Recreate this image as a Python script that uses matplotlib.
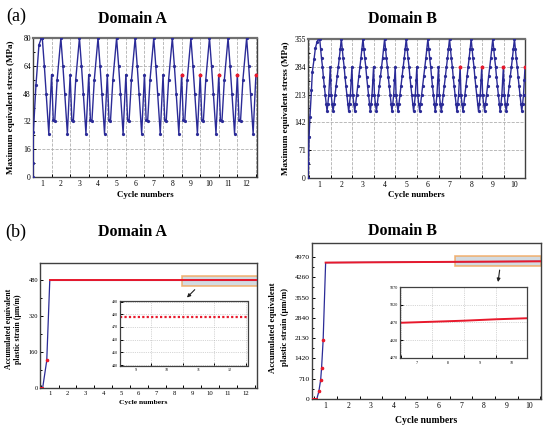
import numpy as np
import matplotlib
matplotlib.use('Agg')
import matplotlib.pyplot as plt
from matplotlib.patches import Rectangle, FancyArrowPatch

plt.rcParams['font.family'] = ['Liberation Serif', 'DejaVu Serif']

AZUL = '#2b2b97'
ROJO = '#e8192c'
GRIS = '#b0b0b0'

# ---------------- (a) tensión equivalente máxima ----------------
# Domain A: subida inicial y patrón de un ciclo (desfase respecto al pico)
rampa_a_x = [0.50, 0.51, 0.52, 0.66, 0.82, 0.95, 1.00]
rampa_a_y = [0, 8, 26, 53, 76, 80, 80]
fase_a = [0.00, 0.11, 0.21, 0.35, 0.50, 0.59, 0.67, 0.80]
ciclo_a = [80, 64, 48, 25, 59, 33, 32, 56]
ciclos_a = list(range(1, 13))
fin_a = 12.5
rojo_a_x = [8.5, 9.5, 10.5, 11.5, 12.5]
rojo_a_y = [59, 59, 59, 59, 59]
yticks_a = [0, 16, 32, 48, 64, 80]

# Domain B
rampa_b_x = [0.46, 0.48, 0.51, 0.55, 0.62, 0.66, 0.74, 0.80, 0.88, 0.95]
rampa_b_y = [0, 37, 105, 155, 225, 271, 303, 331, 348, 355]
fase_b = [0.00, 0.04, 0.085, 0.13, 0.17, 0.21, 0.255, 0.30, 0.34, 0.38, 0.42,
          0.455, 0.49, 0.53, 0.575, 0.62, 0.665, 0.71, 0.76, 0.81, 0.855, 0.905, 0.95]
ciclo_b = [355, 330, 305, 284, 258, 236, 213, 190, 170, 190, 213,
           250, 284, 213, 190, 170, 190, 213, 236, 260, 284, 305, 330]
ciclos_b = list(range(1, 11))
fin_b = 10.49
rojo_b_x = [7.49, 8.49, 9.49, 10.49]
rojo_b_y = [284, 284, 284, 284]
yticks_b = [0, 71, 142, 213, 284, 355]

# ---------------- (b) deformación plástica acumulada ----------------
acum_a_x = [0.45, 0.60, 0.83, 1.00, 12.65]
acum_a_y = [0, 0, 122, 478, 478]
acum_a_rojo_x = [0.83]
acum_a_rojo_y = [122]
zoom_a_x = [8.5, 12.55]
zoom_a_y = [478, 478]
yticks_acum_a = [0, 160, 320, 480]
yticks_zoom_a = [440, 450, 460, 470, 480, 490]

acum_b_x = [0.39, 0.61, 0.70, 0.78, 0.82, 0.89, 1.00, 10.52]
acum_b_y = [0, 0, 265, 673, 1080, 2067, 4775, 4820]
acum_b_rojo_x = [0.70, 0.78, 0.82, 0.89]
acum_b_rojo_y = [265, 673, 1080, 2067]
zoom_b_x = [6.47, 7.5, 8.5, 9.5, 10.5]
zoom_b_y = [4969, 4972, 4975, 4979, 4982]
yticks_acum_b = [0, 710, 1420, 2130, 2840, 3550, 4260, 4970]
yticks_zoom_b = [4870, 4920, 4970, 5020, 5070]


def serie_ciclica(rx, ry, fase, valores, ciclos, fin):
    xs, ys = list(rx), list(ry)
    for n in ciclos:
        for f, v in zip(fase, valores):
            if n + f <= fin + 1e-9:
                xs.append(n + f)
                ys.append(v)
    return xs, ys


def ejes_ciclos(ax, lo, hi, tam, grid_x=False):
    medios = [i + 0.5 for i in range(int(lo), int(hi) + 1) if lo < i + 0.5 < hi]
    enteros = [i for i in range(1, int(hi) + 1) if lo < i < hi]
    ax.set_xlim(lo, hi)
    ax.set_xticks(medios)
    ax.set_xticklabels([])
    ax.set_xticks(enteros, minor=True)
    ax.set_xticklabels([str(i) for i in enteros], minor=True, fontsize=tam)
    ax.tick_params(axis='x', which='minor', length=0, pad=2)
    ax.tick_params(axis='x', which='major', direction='in', length=2.5, width=0.7)
    if grid_x:
        ax.grid(True, axis='x', which='major', linestyle='--', color=GRIS, linewidth=0.6)


def ejes_y(ax, ticks, tam):
    ax.set_yticks(ticks)
    ax.set_yticklabels([str(t) for t in ticks], fontsize=tam)
    paso = ticks[1] - ticks[0]
    ax.set_yticks([t + paso / 2 for t in ticks[:-1]], minor=True)
    ax.tick_params(axis='y', which='both', direction='in', width=0.7, pad=1.5)
    ax.tick_params(axis='y', which='major', length=2.5)
    ax.tick_params(axis='y', which='minor', length=1.5)


def marco(ax, lw=1.0):
    for s in ax.spines.values():
        s.set_linewidth(lw)
        s.set_color('#404040')


fig = plt.figure(figsize=(5.5, 4.32), dpi=100)

# ---- arriba izquierda
ax1 = fig.add_axes([0.060, 0.590, 0.407, 0.322])
xa, ya = serie_ciclica(rampa_a_x, rampa_a_y, fase_a, ciclo_a, ciclos_a, fin_a)
ax1.plot(xa, ya, color=AZUL, lw=1.0, marker='o', ms=1.3, zorder=3)
ax1.plot(rojo_a_x, rojo_a_y, 'o', color=ROJO, ms=1.8, zorder=4)
ejes_ciclos(ax1, 0.5, 12.55, 5.5, grid_x=True)
ax1.set_ylim(0, 80)
ejes_y(ax1, yticks_a, 5.5)
ax1.grid(True, axis='y', which='major', linestyle='--', color=GRIS, linewidth=0.6)
ax1.set_ylabel('Maximum equivalent stress (MPa)', fontsize=6.6, fontweight='bold')
ax1.yaxis.set_label_coords(-0.08, 0.5)
ax1.set_xlabel('Cycle numbers', fontsize=6.4, fontweight='bold')
ax1.xaxis.set_label_coords(0.5, -0.099)
marco(ax1)
ax1.spines['top'].set_linewidth(1.6)
ax1.spines['top'].set_color('#707070')

# ---- arriba derecha
ax2 = fig.add_axes([0.560, 0.588, 0.395, 0.322])
xb, yb = serie_ciclica(rampa_b_x, rampa_b_y, fase_b, ciclo_b, ciclos_b, fin_b)
ax2.plot(xb, yb, color=AZUL, lw=1.0, marker='o', ms=1.3, zorder=3)
ax2.plot(rojo_b_x, rojo_b_y, 'o', color=ROJO, ms=1.8, zorder=4)
ejes_ciclos(ax2, 0.46, 10.5, 5.5, grid_x=True)
ax2.set_ylim(0, 355)
ejes_y(ax2, yticks_b, 5.5)
ax2.grid(True, axis='y', which='major', linestyle='--', color=GRIS, linewidth=0.6)
ax2.set_ylabel('Maximum equivalent stress (MPa)', fontsize=6.6, fontweight='bold')
ax2.yaxis.set_label_coords(-0.083, 0.5)
ax2.set_xlabel('Cycle numbers', fontsize=6.4, fontweight='bold')
ax2.xaxis.set_label_coords(0.5, -0.091)
marco(ax2)
ax2.spines['top'].set_linewidth(1.6)
ax2.spines['top'].set_color('#707070')

# ---- abajo izquierda
ax3 = fig.add_axes([0.0727, 0.102, 0.395, 0.289])
ax3.plot(acum_a_x, acum_a_y, color=AZUL, lw=0.9, zorder=3)
ax3.plot(acum_a_x[:2], acum_a_y[:2], color=ROJO, lw=1.4, zorder=4)
ax3.plot(acum_a_x[3:], acum_a_y[3:], color=ROJO, lw=1.4, zorder=4)
ax3.plot(acum_a_rojo_x, acum_a_rojo_y, 'o', color=ROJO, ms=1.6, zorder=4)
ax3.add_patch(Rectangle((8.4, 453), 4.3, 46, facecolor='#c9d3da', alpha=0.8,
                        edgecolor='#f2a65a', lw=1.2, zorder=2))
ejes_ciclos(ax3, 0.45, 12.65, 4.8)
ax3.set_ylim(0, 555)
ejes_y(ax3, yticks_acum_a, 4.6)
ax3.set_ylabel('Accumulated equivalent\nplastic strain (\u03bcm/m)', fontsize=5.6,
               fontweight='bold', linespacing=1.15)
ax3.yaxis.set_label_coords(-0.083, 0.47)
ax3.set_xlabel('Cycle numbers', fontsize=5.4, fontweight='bold')
ax3.xaxis.set_label_coords(0.475, -0.096)
marco(ax3)

# recuadro de zoom A
in3 = fig.add_axes([0.218, 0.1535, 0.232, 0.150])
in3.plot(zoom_a_x, zoom_a_y, color=ROJO, lw=1.6, ls=(0, (1.0, 1.0)))
ejes_ciclos(in3, 8.5, 12.55, 3.0, grid_x=True)
in3.set_ylim(439.5, 490.5)
ejes_y(in3, yticks_zoom_a, 3.0)
in3.tick_params(axis='y', which='minor', length=0)
in3.grid(True, axis='y', which='major', linestyle=':', color=GRIS, linewidth=0.5)
in3.grid(True, axis='x', which='major', linestyle=':', color=GRIS, linewidth=0.5)
marco(in3, 0.9)

# ---- abajo derecha
ax4 = fig.add_axes([0.567, 0.0764, 0.416, 0.361])
ax4.plot(acum_b_x, acum_b_y, color=AZUL, lw=0.9, zorder=3)
ax4.plot(acum_b_x[:2], acum_b_y[:2], color=ROJO, lw=1.4, zorder=4)
ax4.plot(acum_b_x[6:], acum_b_y[6:], color=ROJO, lw=1.4, zorder=4)
ax4.plot(acum_b_rojo_x, acum_b_rojo_y, 'o', color=ROJO, ms=1.6, zorder=4)
ax4.add_patch(Rectangle((6.75, 4650), 3.8, 345, facecolor='#c9d3da', alpha=0.8,
                        edgecolor='#f2a65a', lw=1.2, zorder=2))
ejes_ciclos(ax4, 0.39, 10.52, 5.5)
ax4.set_ylim(0, 5460)
ejes_y(ax4, yticks_acum_b, 5.4)
ax4.set_ylabel('Accumulated equivalent\nplastic strain (\u03bcm/m)', fontsize=6.3,
               fontweight='bold', linespacing=1.7)
ax4.yaxis.set_label_coords(-0.10, 0.46)
ax4.set_xlabel('Cycle numbers', fontsize=6.9, fontweight='bold')
ax4.xaxis.set_label_coords(0.5, -0.109)
marco(ax4)

# recuadro de zoom B
in4 = fig.add_axes([0.727, 0.1706, 0.232, 0.166])
in4.plot(zoom_b_x, zoom_b_y, color=ROJO, lw=1.4)
ejes_ciclos(in4, 6.47, 10.5, 3.0, grid_x=True)
in4.set_ylim(4868, 5072)
ejes_y(in4, yticks_zoom_b, 3.0)
in4.tick_params(axis='y', which='minor', length=0)
in4.grid(True, axis='y', which='major', linestyle=':', color=GRIS, linewidth=0.5)
in4.grid(True, axis='x', which='major', linestyle=':', color=GRIS, linewidth=0.5)
marco(in4, 0.9)

# flechas hacia los recuadros (coordenadas de figura)
for (x0, y0), (x1, y1) in [((196.7, 287.7), (185.0, 299.5)),
                           ((500.0, 267.3), (497.7, 284.8))]:
    fig.add_artist(FancyArrowPatch((x0 / 550, 1 - y0 / 432), (x1 / 550, 1 - y1 / 432),
                                   transform=fig.transFigure, arrowstyle='-|>',
                                   mutation_scale=5, color='#202020', lw=0.8))

# títulos y etiquetas de panel
fig.text(132 / 550, 1 - 19 / 432, 'Domain A', fontsize=11.5, fontweight='bold',
         ha='center', va='center')
fig.text(402 / 550, 1 - 19 / 432, 'Domain B', fontsize=11.5, fontweight='bold',
         ha='center', va='center')
fig.text(132 / 550, 1 - 232 / 432, 'Domain A', fontsize=11.5, fontweight='bold',
         ha='center', va='center')
fig.text(402 / 550, 1 - 231 / 432, 'Domain B', fontsize=11.5, fontweight='bold',
         ha='center', va='center')
fig.text(16 / 550, 1 - 16 / 432, '(a)', fontsize=13, ha='center', va='center')
fig.text(16 / 550, 1 - 232 / 432, '(b)', fontsize=13, ha='center', va='center')

fig.savefig('out.png', dpi=100)
